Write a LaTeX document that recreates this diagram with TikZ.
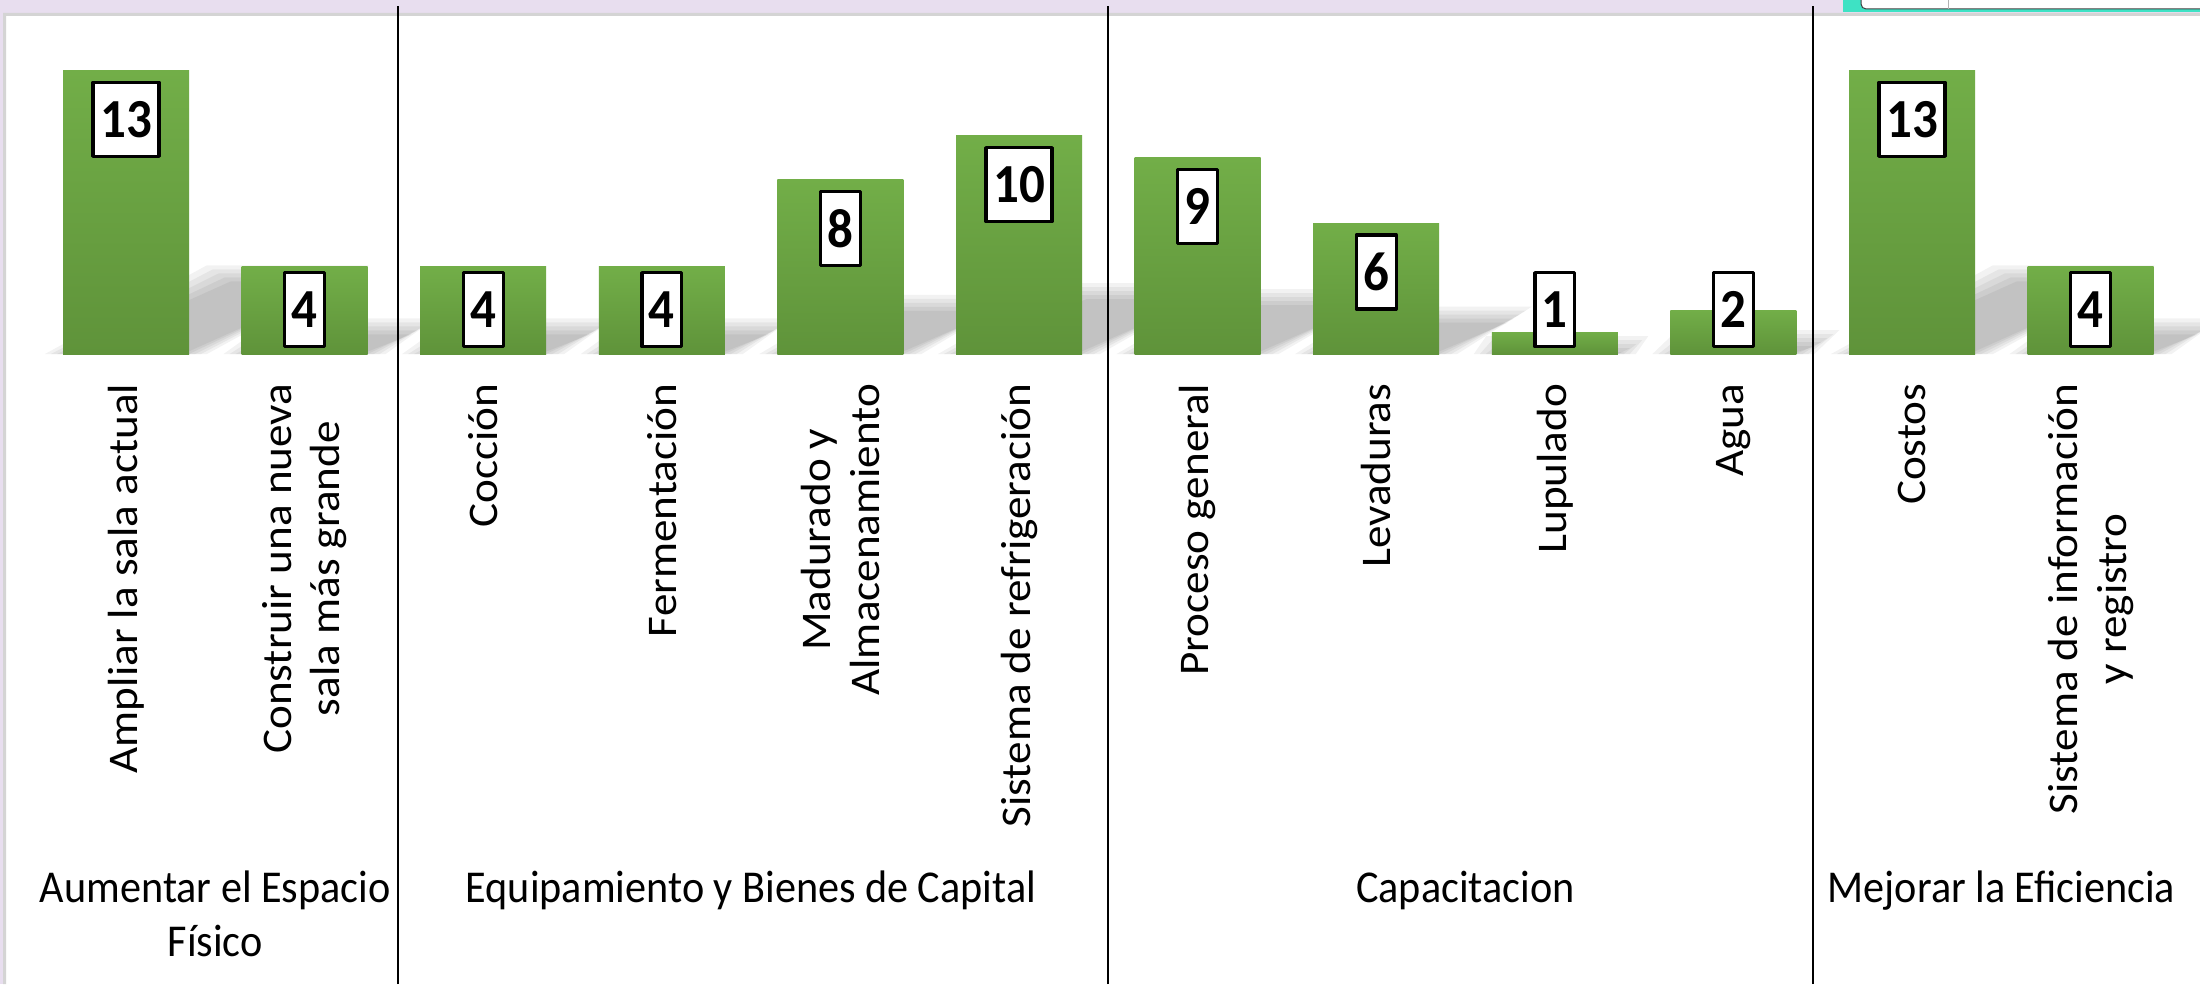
\documentclass[tikz,border=0pt]{standalone}
\usepackage{fontspec}
\setmainfont{Carlito}
\usepackage{graphicx}

\definecolor{barhi}{RGB}{114,174,72}
\definecolor{barlo}{RGB}{95,147,58}
\definecolor{lila}{RGB}{232,222,239}
\definecolor{rim}{RGB}{212,212,212}
\definecolor{tabcyan}{RGB}{62,226,196}

\begin{document}
\begin{tikzpicture}[x=0.01cm, y=0.01cm, line join=round,
    sep/.style={line width=0.027cm, color=black},
    valbox/.style={draw=black, line width=0.033cm, fill=white, inner xsep=2pt, inner ysep=0pt, minimum height=0.74cm, anchor=north, font=\fontsize{14.5}{16}\selectfont\bfseries},
    itemlab/.style={rotate=90, xscale=1.07, anchor=east, inner sep=0pt, align=center, font=\fontsize{12}{13.9}\selectfont},
    grouplab/.style={yscale=1.08, anchor=north, inner sep=0pt, align=center, font=\fontsize{12}{14.2}\selectfont}]
  \useasboundingbox (0,0) rectangle (2200,984);
  \fill[white] (0,0) rectangle (2200,984);
  \fill[lila] (0,971) rectangle (2200,984);
  \fill[lila] (0,0) rectangle (3,971);
  \fill[rim] (3,0) rectangle (6,968) (3,968) rectangle (2200,971);
  \fill[tabcyan] (1843,972) rectangle (2200,984);
  \draw[black!75, fill=white, line width=0.01cm, rounded corners=0.05cm] (1861,990) -- (1861,975) -- (2210,975) -- (2210,990);
  \draw[black!30, line width=0.01cm] (1948,975) -- (1948,984);

  \begin{scope}
    \clip (0,630) rectangle (2200,984);
    \foreach \i/\v in {1/13, 2/4, 3/4, 4/4, 5/8, 6/10, 7/9, 8/6, 9/1, 10/2, 11/13, 12/4} {
      \pgfmathsetmacro\cx{126+(\i-1)*178.6}
      \pgfmathsetmacro\h{\v*21.8}
      \foreach \d in {12,8,4,0,-4}
        \fill[black, opacity=0.05] (\cx-63-1.5*\d,630) -- (\cx+63+1.5*\d,630) -- (\cx+63+1.5*\d+0.57*\h,630+0.27*\h+\d) -- (\cx-63-1.5*\d+0.57*\h,630+0.27*\h+\d) -- cycle;
    }
  \end{scope}

  \draw[sep] (398,0) -- (398,978);
  \draw[sep] (1108,0) -- (1108,978);
  \draw[sep] (1813,0) -- (1813,978);

  \foreach \i/\v/\txt in {1/13/{Ampliar la sala actual}, 2/4/{Construir una nueva\\sala más grande},
      3/4/{Cocción}, 4/4/{Fermentación}, 5/8/{Madurado y\\Almacenamiento}, 6/10/{Sistema de refrigeración},
      7/9/{Proceso general}, 8/6/{Levaduras}, 9/1/{Lupulado}, 10/2/{Agua},
      11/13/{Costos}, 12/4/{Sistema de información\\y registro}} {
    \pgfmathsetmacro\cx{126+(\i-1)*178.6}
    \pgfmathsetmacro\ytop{630+\v*21.8}
    \pgfmathsetmacro\vy{max(\ytop-10,713)}
    \shade[top color=barhi, bottom color=barlo] (\cx-63,630) rectangle (\cx+63,\ytop);
    \node[valbox] (val\i) at (\cx,\vy) {\scalebox{1}[1.08]{\v}};
    \node[itemlab] (item\i) at (\cx,601) {\txt};
  }

  \node[grouplab] (grp1) at (215.3,114) {Aumentar el Espacio\\Físico};
  \node[grouplab] (grp2) at (751,114) {Equipamiento y Bienes de Capital};
  \node[grouplab] (grp3) at (1465.4,114) {Capacitacion};
  \node[grouplab] (grp4) at (2001.3,114) {Mejorar la Eficiencia};
\end{tikzpicture}
\end{document}
